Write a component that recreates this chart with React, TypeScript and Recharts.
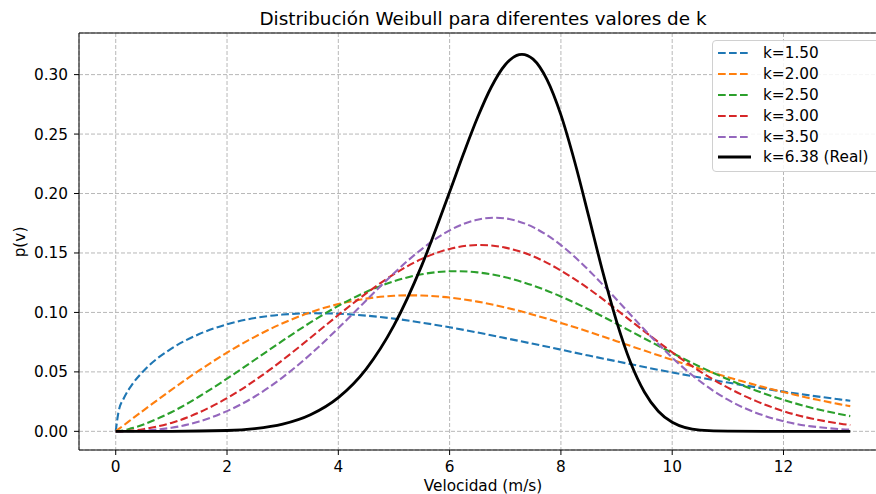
import { LineChart, Line, XAxis, YAxis, CartesianGrid, Legend, ReferenceLine } from "recharts"

// velocidad (m/s) para las curvas teóricas
const velocidad = [0, 0.05, 0.15, 0.3, 0.5, 1, 1.5, 2, 2.5, 3, 3.5, 4, 4.5, 5, 5.5, 6, 6.5, 7, 7.5, 8, 8.5, 9, 9.5, 10, 10.5, 11, 11.5, 12, 12.5, 13, 13.2]

const k150 = [0, 0.0163, 0.0282, 0.0397, 0.0508, 0.0696, 0.0818, 0.0900, 0.0953, 0.0982, 0.0993, 0.0989, 0.0973, 0.0948, 0.0914, 0.0875, 0.0831, 0.0784, 0.0736, 0.0687, 0.0637, 0.0589, 0.0541, 0.0495, 0.0452, 0.0410, 0.0371, 0.0334, 0.0300, 0.0269, 0.0257]
const k200 = [0, 0.0018, 0.0053, 0.0107, 0.0177, 0.0349, 0.0512, 0.0662, 0.0795, 0.0909, 0.1001, 0.1070, 0.1116, 0.1140, 0.1142, 0.1125, 0.1091, 0.1042, 0.0981, 0.0912, 0.0837, 0.0758, 0.0679, 0.0601, 0.0526, 0.0455, 0.0390, 0.0330, 0.0276, 0.0229, 0.0212]
const k250 = [0, 0.0002, 0.0009, 0.0027, 0.0057, 0.0161, 0.0293, 0.0443, 0.0602, 0.0762, 0.0916, 0.1055, 0.1172, 0.1262, 0.1321, 0.1346, 0.1337, 0.1296, 0.1226, 0.1134, 0.1025, 0.0905, 0.0781, 0.0659, 0.0543, 0.0438, 0.0344, 0.0265, 0.0199, 0.0146, 0.0128]
const k300 = [0, 0, 0.0002, 0.0006, 0.0018, 0.0071, 0.0159, 0.0279, 0.0428, 0.0600, 0.0787, 0.0978, 0.1160, 0.1322, 0.1450, 0.1534, 0.1567, 0.1545, 0.1472, 0.1352, 0.1199, 0.1023, 0.0841, 0.0665, 0.0504, 0.0367, 0.0256, 0.0170, 0.0108, 0.0066, 0.0053]
const k350 = [0, 0, 0, 0.0001, 0.0005, 0.0030, 0.0083, 0.0170, 0.0293, 0.0454, 0.0648, 0.0868, 0.1101, 0.1330, 0.1533, 0.1690, 0.1780, 0.1791, 0.1717, 0.1566, 0.1355, 0.1109, 0.0856, 0.0620, 0.0421, 0.0266, 0.0157, 0.0085, 0.0042, 0.0019, 0.0014]

// curva real (k=6.38), más densa cerca del pico
const velocidadReal = [0, 1, 2, 2.5, 3, 3.5, 4, 4.5, 5, 5.5, 6, 6.25, 6.5, 6.75, 7, 7.25, 7.3, 7.5, 7.75, 8, 8.25, 8.5, 8.75, 9, 9.25, 9.5, 9.75, 10, 10.5, 11, 12, 13.2]
const kReal = [0, 0, 0.0007, 0.0023, 0.0061, 0.0140, 0.0284, 0.0524, 0.0891, 0.1396, 0.2013, 0.2334, 0.2637, 0.2896, 0.3083, 0.3168, 0.3171, 0.3130, 0.2958, 0.2661, 0.2263, 0.1808, 0.1345, 0.0925, 0.0581, 0.0331, 0.0169, 0.0076, 0.0010, 0.0001, 0, 0]

const xTicks = [0, 2, 4, 6, 8, 10, 12]
const yTicks = [0, 0.05, 0.1, 0.15, 0.2, 0.25, 0.3]

const series = [
  { key: "k150", name: "k=1.50", color: "#1f77b4", values: k150, curve: "monotone" },
  { key: "k200", name: "k=2.00", color: "#ff7f0e", values: k200, curve: "natural" },
  { key: "k250", name: "k=2.50", color: "#2ca02c", values: k250, curve: "natural" },
  { key: "k300", name: "k=3.00", color: "#d62728", values: k300, curve: "natural" },
  { key: "k350", name: "k=3.50", color: "#9467bd", values: k350, curve: "natural" },
]

const tabla = velocidad.map((v, i) => {
  const row: Record<string, number> = { v }
  series.forEach(s => { row[s.key] = s.values[i] })
  return row
})
const tablaReal = velocidadReal.map((v, i) => ({ v, p: kReal[i] }))

const font = "'DejaVu Sans', sans-serif"
const FS = 15.3
const tickStyle = { fontSize: FS, fill: "#000", fontFamily: font }
const Y_MAX = 0.335

function LegendBox() {
  const items = [...series.map(s => ({ name: s.name, color: s.color, dashed: true })), { name: "k=6.38 (Real)", color: "#000", dashed: false }]
  return (
    <div style={{
      width: 172, height: 132, boxSizing: "border-box", border: "1px solid #d0d0d0", borderRadius: 4,
      background: "rgba(255,255,255,0.85)", paddingTop: 2, fontFamily: font, fontSize: FS, color: "#000"
    }}>
      {items.map(it => (
        <div key={it.name} style={{ display: "flex", alignItems: "center", height: 20.8, paddingLeft: 5 }}>
          <svg width={33} height={6} style={{ display: "block" }}>
            <line x1={0} y1={3} x2={33} y2={3} stroke={it.color}
              strokeWidth={it.dashed ? 2.1 : 2.8} strokeDasharray={it.dashed ? "7.7 3.3" : undefined} />
          </svg>
          <span style={{ marginLeft: 12, whiteSpace: "nowrap", lineHeight: "18px" }}>{it.name}</span>
        </div>
      ))}
    </div>
  )
}

export default function App() {
  return (
    <div style={{ position: "absolute", left: 0, top: 0, width: 876, height: 494, overflow: "hidden", background: "#fff" }}>
      <div style={{ position: "absolute", left: 0, top: 8, width: 966, textAlign: "center", fontFamily: font, fontSize: 18.4, lineHeight: "22px", color: "#000" }}>
        Distribución Weibull para diferentes valores de k
      </div>
      <div style={{ position: "absolute", left: 0, top: 477, width: 966, textAlign: "center", fontFamily: font, fontSize: FS, lineHeight: "18px", color: "#000" }}>
        Velocidad (m/s)
      </div>
      <div style={{ position: "absolute", left: 20, top: 242, transform: "translate(-50%, -50%) rotate(-90deg)", fontFamily: font, fontSize: FS, lineHeight: "18px", color: "#000", whiteSpace: "nowrap" }}>
        p(v)
      </div>
      <LineChart width={887} height={494} data={tabla} margin={{ top: 33, right: 0, bottom: 0, left: 0 }}>
        <CartesianGrid strokeDasharray="4 2" stroke="#b8b8b8" strokeWidth={1} />
        <XAxis dataKey="v" type="number" domain={[-0.66, 13.86]} ticks={xTicks} allowDataOverflow
          height={44} tickSize={5} tickMargin={6} tick={tickStyle}
          axisLine={{ stroke: "#000" }} tickLine={{ stroke: "#000" }} />
        <YAxis type="number" domain={[-0.0157, Y_MAX]} ticks={yTicks} allowDataOverflow
          width={79} tickSize={5} tickMargin={6} tick={tickStyle}
          tickFormatter={(v: number) => v.toFixed(2)}
          axisLine={{ stroke: "#000" }} tickLine={{ stroke: "#000" }} />
        <ReferenceLine y={Y_MAX} stroke="#000" strokeWidth={1} />
        {series.map(s => (
          <Line key={s.key} dataKey={s.key} name={s.name} type={s.curve as "monotone" | "natural"} stroke={s.color}
            strokeWidth={2.1} strokeDasharray="7.7 3.3" dot={false} isAnimationActive={false} />
        ))}
        <Line data={tablaReal} dataKey="p" name="k=6.38 (Real)" type="monotone" stroke="#000"
          strokeWidth={2.8} dot={false} isAnimationActive={false} />
        <Legend layout="horizontal" verticalAlign="middle" align="center" content={() => <LegendBox />}
          wrapperStyle={{ left: 712, top: 40, width: 172, height: 132 }} />
      </LineChart>
    </div>
  )
}
